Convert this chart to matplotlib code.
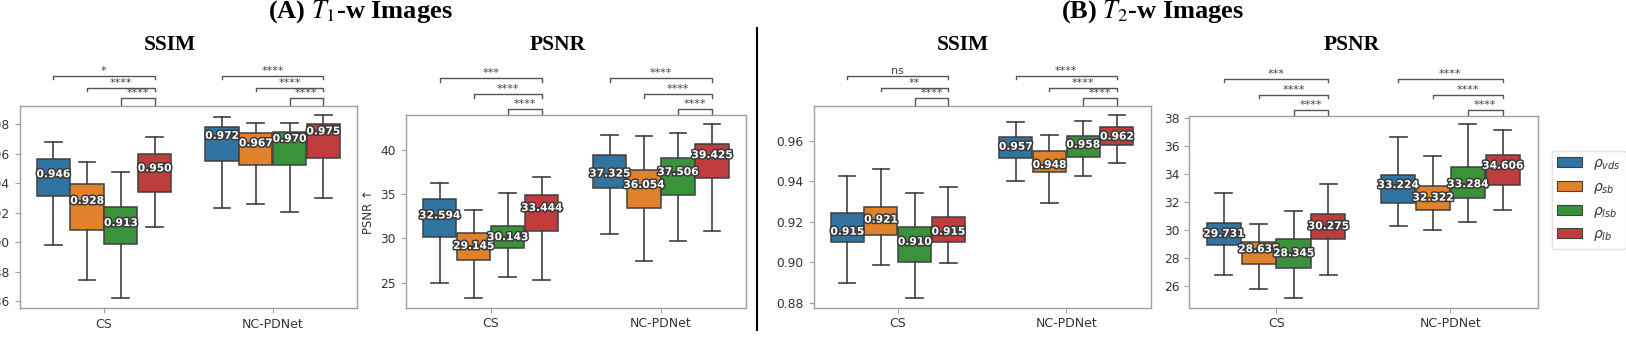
import matplotlib
matplotlib.use('Agg')
import matplotlib.pyplot as plt
import matplotlib.patheffects as pe
from matplotlib.patches import Patch
from matplotlib.lines import Line2D
from matplotlib.transforms import blended_transform_factory
from matplotlib.font_manager import FontProperties

# ---------------- data ----------------
groups = ['CS', 'NC-PDNet']
hues = [r'$\rho_{vds}$', r'$\rho_{sb}$', r'$\rho_{lsb}$', r'$\rho_{lb}$']
colors = ['#3274a1', '#e1812c', '#3a923a', '#c03d3e']

# rows = groups (CS, NC-PDNet), cols = hues (vds, sb, lsb, lb)
t1_ssim_med = [[0.946, 0.928, 0.913, 0.950], [0.972, 0.967, 0.970, 0.975]]
t1_ssim_q1 = [[0.9314, 0.9084, 0.8987, 0.9340], [0.9550, 0.9523, 0.9523, 0.9568]]
t1_ssim_q3 = [[0.9562, 0.9395, 0.9237, 0.9595], [0.9780, 0.9737, 0.9748, 0.9800]]
t1_ssim_lo = [[0.8982, 0.8746, 0.8622, 0.9100], [0.9234, 0.9260, 0.9203, 0.9298]]
t1_ssim_hi = [[0.9680, 0.9545, 0.9474, 0.9710], [0.9845, 0.9805, 0.9810, 0.9860]]
t1_ssim_stars = [['*', '****', '****'], ['****', '****', '****']]

t1_psnr_med = [[32.594, 29.145, 30.143, 33.444], [37.325, 36.054, 37.506, 39.425]]
t1_psnr_q1 = [[30.19, 27.56, 28.88, 30.87], [35.67, 33.40, 34.91, 36.80]]
t1_psnr_q3 = [[34.42, 30.58, 31.40, 34.91], [39.43, 37.74, 39.06, 40.68]]
t1_psnr_lo = [[24.92, 23.22, 25.60, 25.25], [30.50, 27.48, 29.71, 30.87]]
t1_psnr_hi = [[36.23, 33.21, 35.17, 36.98], [41.70, 41.58, 41.96, 42.94]]
t1_psnr_stars = [['***', '****', '****'], ['****', '****', '****']]

t2_ssim_med = [[0.915, 0.921, 0.910, 0.915], [0.957, 0.948, 0.958, 0.962]]
t2_ssim_q1 = [[0.9098, 0.9134, 0.9002, 0.9101], [0.9513, 0.9447, 0.9518, 0.9579]]
t2_ssim_q3 = [[0.9241, 0.9274, 0.9175, 0.9222], [0.9620, 0.9551, 0.9623, 0.9666]]
t2_ssim_lo = [[0.8896, 0.8985, 0.8822, 0.8998], [0.9400, 0.9291, 0.9426, 0.9488]]
t2_ssim_hi = [[0.9427, 0.9459, 0.9340, 0.9370], [0.9691, 0.9628, 0.9699, 0.9727]]
t2_ssim_stars = [['ns', '**', '****'], ['****', '****', '****']]

t2_psnr_med = [[29.731, 28.635, 28.345, 30.275], [33.224, 32.322, 33.284, 34.606]]
t2_psnr_q1 = [[28.93, 27.55, 27.26, 29.36], [31.96, 31.44, 32.27, 33.23]]
t2_psnr_q3 = [[30.53, 29.17, 29.34, 31.15], [33.94, 33.15, 34.49, 35.37]]
t2_psnr_lo = [[26.78, 25.76, 25.12, 26.78], [30.29, 30.00, 30.56, 31.44]]
t2_psnr_hi = [[32.67, 30.43, 31.36, 33.28], [36.64, 35.30, 37.59, 37.16]]
t2_psnr_stars = [['***', '****', '****'], ['****', '****', '****']]

# ---------------- layout ----------------
W, H = 1626, 338
fig = plt.figure(figsize=(W / 100, H / 100), dpi=100)

line_c = '#404040'
spine_c = '#a0a0a0'
offsets = [-0.3, -0.1, 0.1, 0.3]

panels = [
    dict(rect=(19.5, 357, 106, 308), ylim=(0.8555, 0.9922),
         yticks=[0.86, 0.88, 0.90, 0.92, 0.94, 0.96, 0.98], fmt='{:.2f}',
         data=(t1_ssim_med, t1_ssim_q1, t1_ssim_q3, t1_ssim_lo, t1_ssim_hi, t1_ssim_stars),
         title='SSIM', tx=170, br=(30.3, 18.3, 7.7), ylabel=None),
    dict(rect=(405.5, 746, 115, 307.7), ylim=(22.16, 43.96),
         yticks=[25, 30, 35, 40], fmt='{:.0f}',
         data=(t1_psnr_med, t1_psnr_q1, t1_psnr_q3, t1_psnr_lo, t1_psnr_hi, t1_psnr_stars),
         title='PSNR', tx=557.5, br=(36.7, 20.7, 6.0), ylabel='PSNR \u2191'),
    dict(rect=(813.5, 1150.5, 106, 307.7), ylim=(0.8775, 0.9771),
         yticks=[0.88, 0.90, 0.92, 0.94, 0.96], fmt='{:.2f}',
         data=(t2_ssim_med, t2_ssim_q1, t2_ssim_q3, t2_ssim_lo, t2_ssim_hi, t2_ssim_stars),
         title='SSIM', tx=963, br=(30.3, 18.3, 7.7), ylabel=None),
    dict(rect=(1189, 1537.5, 115.7, 307.7), ylim=(24.44, 38.19),
         yticks=[26, 28, 30, 32, 34, 36, 38], fmt='{:.0f}',
         data=(t2_psnr_med, t2_psnr_q1, t2_psnr_q3, t2_psnr_lo, t2_psnr_hi, t2_psnr_stars),
         title='PSNR', tx=1351.7, br=(36.7, 20.7, 6.0), ylabel=None),
]

for p in panels:
    x0, x1, yt, yb = p['rect']
    ax = fig.add_axes([x0 / W, 1 - yb / H, (x1 - x0) / W, (yb - yt) / H])
    hpx = yb - yt
    med, q1, q3, lo, hi, stars = p['data']
    for g in range(len(groups)):
        for h in range(len(hues)):
            pos = g + offsets[h]
            st = [dict(med=med[g][h], q1=q1[g][h], q3=q3[g][h],
                       whislo=lo[g][h], whishi=hi[g][h], fliers=[])]
            ax.bxp(st, positions=[pos], widths=0.196, patch_artist=True,
                   showfliers=False, manage_ticks=False,
                   boxprops=dict(facecolor=colors[h], edgecolor=line_c, linewidth=1.1),
                   whiskerprops=dict(color=line_c, linewidth=1.2),
                   capprops=dict(color=line_c, linewidth=1.2),
                   medianprops=dict(color=line_c, linewidth=1.1))
            ax.text(pos, med[g][h], '{:.3f}'.format(med[g][h]), ha='center', va='center',
                    fontsize=7.7, fontweight='bold', color='white', zorder=5,
                    path_effects=[pe.withStroke(linewidth=2.2, foreground='#3a3a3a')])
        # significance brackets
        trans = blended_transform_factory(ax.transData, ax.transAxes)
        xr = g + offsets[3]
        for k in range(3):
            xl = g + offsets[k]
            ybr = 1 + p['br'][k] / hpx
            tick = (3.5 if k < 2 else p['br'][k] - 0.5) / hpx
            ax.plot([xl, xl, xr, xr], [ybr - tick, ybr, ybr, ybr - tick], transform=trans,
                    clip_on=False, color='#555555', linewidth=1.0)
            ax.text((xl + xr) / 2, ybr, stars[g][k], transform=trans, ha='center',
                    va='bottom', fontsize=8, color='#444444')
    ax.set_xlim(-0.5, 1.5)
    ax.set_ylim(*p['ylim'])
    ax.set_xticks(range(len(groups)))
    ax.set_xticklabels(groups, fontsize=9, color='#333333')
    ax.set_yticks(p['yticks'])
    ax.set_yticklabels([p['fmt'].format(v) for v in p['yticks']], fontsize=8.8, color='#333333')
    ax.tick_params(colors=spine_c, labelcolor='#333333', length=3.5, width=0.8)
    for s in ax.spines.values():
        s.set_color(spine_c)
        s.set_linewidth(1.0)
    if p['ylabel']:
        ax.set_ylabel(p['ylabel'], fontsize=8.5, color='#333333', labelpad=4)
    fig.text(p['tx'] / W, 1 - 45 / H, p['title'], ha='center', va='center',
             fontsize=15.5, fontweight='bold', family='Liberation Serif')

# main titles
fig.text(360.5 / W, 1 - 12 / H, r'(A) $T_1$-w Images', ha='center', va='center',
         fontsize=19, fontweight='bold', family='Liberation Serif', math_fontfamily='stix')
fig.text(1153 / W, 1 - 12 / H, r'(B) $T_2$-w Images', ha='center', va='center',
         fontsize=19, fontweight='bold', family='Liberation Serif', math_fontfamily='stix')

# divider
fig.add_artist(Line2D([757 / W, 757 / W], [1 - 330 / H, 1 - 28 / H], color='black',
                      linewidth=1.5, transform=fig.transFigure))

# legend
handles = [Patch(facecolor=c, edgecolor=line_c, linewidth=0.8) for c in colors]
leg = fig.legend(handles, hues, loc='upper left',
                 bbox_to_anchor=(1551.5 / W, 1 - 150.7 / H), bbox_transform=fig.transFigure,
                 borderaxespad=0, prop=FontProperties(size=10), handlelength=1.8,
                 handleheight=0.75, labelspacing=0.55, frameon=True, fancybox=True)
leg.get_frame().set_edgecolor('#dddddd')
for t in leg.get_texts():
    t.set_color('#333333')

fig.savefig('out.png', dpi=100)
